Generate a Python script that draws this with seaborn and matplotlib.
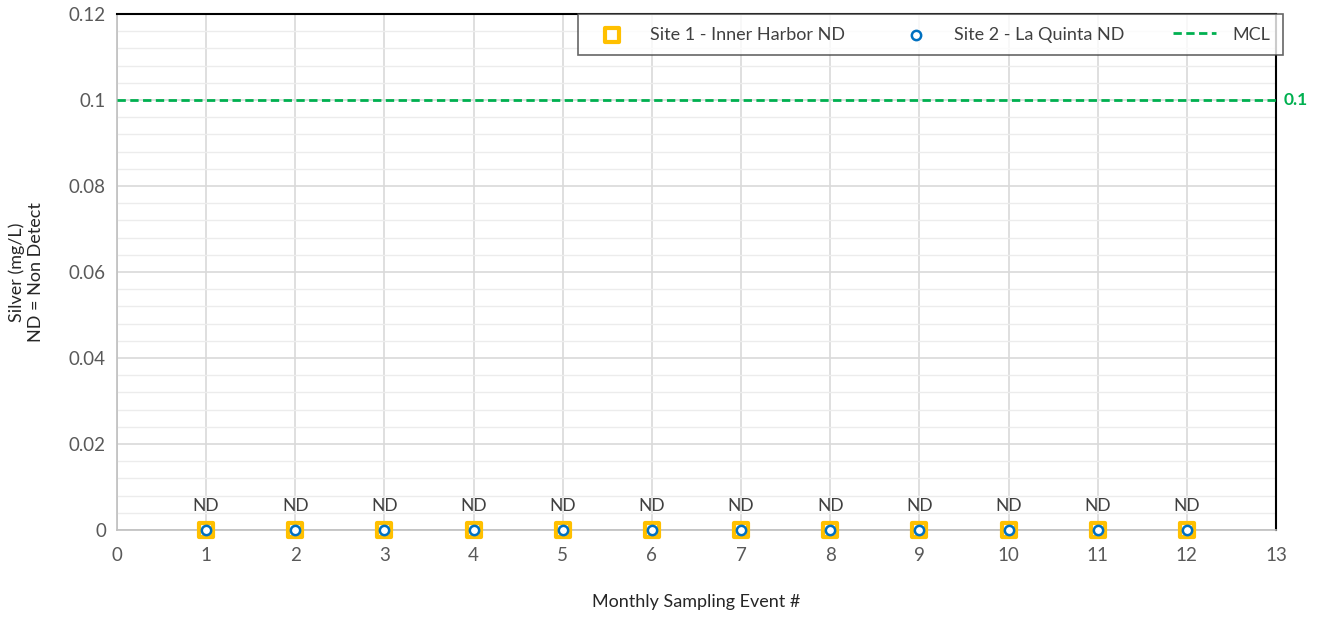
import numpy as np
import pandas as pd
import matplotlib
matplotlib.use("Agg")
import matplotlib.pyplot as plt
import seaborn as sns
from matplotlib.ticker import MultipleLocator

events = [1, 2, 3, 4, 5, 6, 7, 8, 9, 10, 11, 12]
site1_nd = [0, 0, 0, 0, 0, 0, 0, 0, 0, 0, 0, 0]
site2_nd = [0, 0, 0, 0, 0, 0, 0, 0, 0, 0, 0, 0]
mcl = 0.1
nd_labels = ["ND"] * 12

sns.set_theme(style="white")
plt.rcParams['font.family'] = ['Lato', 'DejaVu Sans']

df = pd.DataFrame({"event": events, "s1": site1_nd, "s2": site2_nd})

fig = plt.figure(figsize=(13.2, 6.18), dpi=100)
ax = fig.add_axes([117/1320, 1-530/618, (1276-117)/1320, (530-14)/618])

ax.set_xlim(0, 13)
ax.set_ylim(0, 0.12)
ax.xaxis.set_major_locator(MultipleLocator(1))
ax.yaxis.set_major_locator(MultipleLocator(0.02))
ax.yaxis.set_minor_locator(MultipleLocator(0.004))
ax.grid(which="major", axis="both", color="#d9d9d9", linewidth=1.2)
ax.grid(which="minor", axis="y", color="#ececec", linewidth=1.0)
ax.set_axisbelow(True)

ax.axhline(mcl, color="#00B050", linestyle=(0, (3, 1.6)), linewidth=2, zorder=3, label="MCL")

sns.scatterplot(data=df, x="event", y="s1", ax=ax, marker="s", s=110,
                facecolor="white", edgecolor="#FFC000", linewidth=3,
                zorder=4, label="Site 1 - Inner Harbor ND", clip_on=False)
sns.scatterplot(data=df, x="event", y="s2", ax=ax, marker="o", s=45,
                facecolor="white", edgecolor="#0070C0", linewidth=1.8,
                zorder=5, label="Site 2 - La Quinta ND", clip_on=False)

for x, y, t in zip(events, site1_nd, nd_labels):
    ax.text(x, y + 0.0056, t, ha="center", va="center", fontsize=12.5, color="#404040")

ax.text(13.08, mcl, "0.1", ha="left", va="center", fontsize=12.5,
        fontweight="bold", color="#00B050")

for s in ["left", "bottom"]:
    ax.spines[s].set_color("#bfbfbf")
    ax.spines[s].set_linewidth(1.2)
for s in ["top", "right"]:
    ax.spines[s].set_color("black")
    ax.spines[s].set_linewidth(1.5)

ax.set_xticks(range(0, 14))
ax.set_xticklabels([str(i) for i in range(0, 14)])
ax.set_yticks([0, 0.02, 0.04, 0.06, 0.08, 0.1, 0.12])
ax.set_yticklabels(["0", "0.02", "0.04", "0.06", "0.08", "0.1", "0.12"])
ax.tick_params(axis="both", which="both", length=0, labelsize=13.5, colors="#595959", pad=8)
ax.tick_params(axis="x", pad=12)

ax.set_xlabel("Monthly Sampling Event #", fontsize=13, color="#262626", labelpad=22)
ax.set_ylabel("Silver (mg/L)\nND = Non Detect", fontsize=13, color="#262626", labelpad=18)

handles, labels = ax.get_legend_handles_labels()
order = [labels.index("Site 1 - Inner Harbor ND"), labels.index("Site 2 - La Quinta ND"), labels.index("MCL")]
leg = ax.legend([handles[i] for i in order], [labels[i] for i in order],
                ncol=3, loc="upper right", bbox_to_anchor=(1.006, 1.0), borderaxespad=0,
                frameon=True, fancybox=False, fontsize=13, columnspacing=2.7,
                handlelength=2.4, handletextpad=0.9, borderpad=0.7, edgecolor="#404040")
leg.get_frame().set_linewidth(1.2)
for t in leg.get_texts():
    t.set_color("#404040")

fig.savefig("out.png", dpi=100)
